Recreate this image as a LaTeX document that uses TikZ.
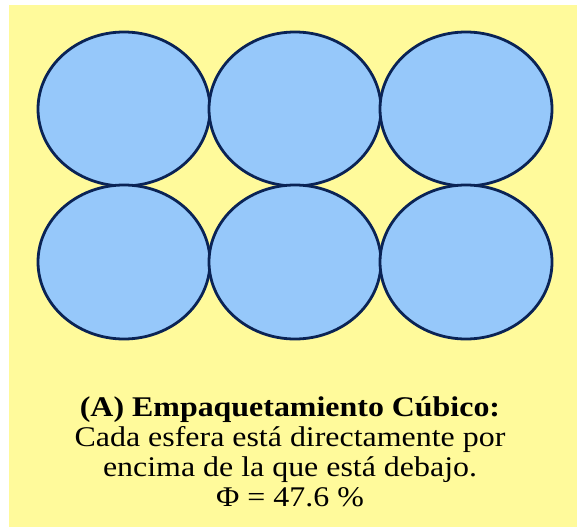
\documentclass[tikz,border=0pt]{standalone}
\usepackage{fontspec}
\usepackage{graphicx}
\setmainfont{Liberation Serif}
\usetikzlibrary{shapes.geometric,positioning}
\definecolor{bgyellow}{RGB}{255,250,155}
\definecolor{sphereblue}{RGB}{150,200,250}
\definecolor{rimnavy}{RGB}{10,35,85}
% the whole figure is a little wider than tall, the text too
\newcommand{\widetxt}[1]{\scalebox{1.12}[1]{#1}}

\begin{document}
\begin{tikzpicture}[x=1pt,y=-1pt,
  sphere/.style={ellipse,draw=rimnavy,line width=2.8pt,fill=sphereblue,
    minimum width=172pt,minimum height=154pt,inner sep=0pt},
  capline/.style={anchor=base,font=\fontsize{28.5}{30}\selectfont}]
\useasboundingbox (0,0) rectangle (577,527);
\fill[bgyellow] (9,5) rectangle (577,527);

% two rows of three spheres, each one right above the other
\foreach \r/\y in {0/109,1/262} {
\foreach \c/\x in {0/124,1/295,2/466} {
\node (s\r\c) at (\x,\y) [sphere] {};
}
}

\node (title) at (290,416) [capline] {\widetxt{\textbf{(A) Empaquetamiento Cúbico:}}};
\node (line1) at (290,446) [capline] {\widetxt{Cada esfera está directamente por}};
\node (line2) at (290,476) [capline] {\widetxt{encima de la que está debajo.}};
\node (line3) at (290,506) [capline] {\widetxt{Φ = 47.6 \%}};
\end{tikzpicture}
\end{document}
